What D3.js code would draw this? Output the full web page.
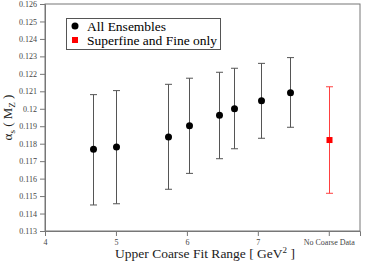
<!DOCTYPE html>
<html><head><meta charset="utf-8">
<script src="https://cdn.jsdelivr.net/npm/d3@7"></script>
<style>body{margin:0;background:#fff}svg{display:block}text{font-family:"Liberation Serif","Times New Roman",serif}</style>
</head><body><svg id="c" width="365" height="269"></svg>
<script>
const fitRange = [4.67, 5.0, 5.74, 6.03, 6.45, 6.67, 7.05, 7.46];
const alphaAll = [0.11768, 0.11781, 0.11838, 0.11903, 0.11963, 0.12000, 0.12046, 0.12092];
const alphaHi  = [0.12081, 0.12104, 0.12140, 0.12175, 0.12209, 0.12232, 0.12260, 0.12293];
const alphaLo  = [0.11449, 0.11456, 0.11539, 0.11630, 0.11714, 0.11771, 0.11831, 0.11894];
const fineX = [8];
const fineAlpha = [0.11821];
const fineHi = [0.12126];
const fineLo = [0.11516];
const xTicks = [4, 5, 6, 7, 8];
const xTickLabels = ["4", "5", "6", "7", "No Coarse Data"];
const yTicks = [0.113,0.114,0.115,0.116,0.117,0.118,0.119,0.120,0.121,0.122,0.123,0.124,0.125,0.126];
const legendLabels = ["All Ensembles", "Superfine and Fine only"];

const svg = d3.select("#c");
const L = 45, R = 360, T = 4, B = 231;
const x = d3.scaleLinear().domain([4, 8.44]).range([L, R]);
const y = d3.scaleLinear().domain([0.113, 0.126]).range([B, T]);

// frame
svg.append("rect").attr("x", L).attr("y", T).attr("width", R - L).attr("height", B - T)
  .attr("fill", "none").attr("stroke", "#777").attr("stroke-width", 1);

const yAxis = svg.append("g").attr("transform", `translate(${L},0)`)
  .call(d3.axisLeft(y).tickValues(yTicks).tickSize(5).tickPadding(3).tickFormat(d => String(+d.toFixed(3))));
const xAxis = svg.append("g").attr("transform", `translate(0,${B})`)
  .call(d3.axisBottom(x).tickValues(xTicks).tickSize(5).tickPadding(3).tickFormat((d, i) => xTickLabels[i]));
[yAxis, xAxis].forEach(g => {
  g.select(".domain").attr("stroke", "#777");
  g.selectAll(".tick line").attr("stroke", "#777");
  g.selectAll(".tick text").attr("fill", "#444").style("font-size", "8px").style("font-family", '"Liberation Serif",serif');
});

const cap = 3.5;
const allData = fitRange.map((d, i) => ({x: d, v: alphaAll[i], hi: alphaHi[i], lo: alphaLo[i]}));
const fineData = fineX.map((d, i) => ({x: d, v: fineAlpha[i], hi: fineHi[i], lo: fineLo[i]}));

function errbars(data, color) {
  const g = svg.append("g").attr("stroke", color).attr("stroke-width", 1).attr("fill", "none");
  data.forEach(d => {
    const px = Math.round(x(d.x)) + 0.5;
    g.append("line").attr("x1", px).attr("x2", px).attr("y1", y(d.hi)).attr("y2", y(d.lo));
    g.append("line").attr("x1", px - cap).attr("x2", px + cap).attr("y1", y(d.hi)).attr("y2", y(d.hi));
    g.append("line").attr("x1", px - cap).attr("x2", px + cap).attr("y1", y(d.lo)).attr("y2", y(d.lo));
  });
}
errbars(allData, "#555");
errbars(fineData, "#ff4040");

svg.append("g").selectAll("circle").data(allData).join("circle")
  .attr("cx", d => Math.round(x(d.x)) + 0.5).attr("cy", d => y(d.v)).attr("r", 3.5).attr("fill", "#000");
svg.append("g").selectAll("rect").data(fineData).join("rect")
  .attr("x", d => Math.round(x(d.x)) + 0.5 - 3).attr("y", d => y(d.v) - 3)
  .attr("width", 6).attr("height", 6).attr("fill", "#f00");

// legend
const lg = svg.append("g");
lg.append("rect").attr("x", 66.5).attr("y", 18.5).attr("width", 154).attr("height", 31)
  .attr("fill", "#fff").attr("stroke", "#555");
lg.append("circle").attr("cx", 75).attr("cy", 26).attr("r", 3.5).attr("fill", "#000");
lg.append("rect").attr("x", 72).attr("y", 37).attr("width", 6).attr("height", 6).attr("fill", "#f00");
lg.selectAll("text").data(legendLabels).join("text")
  .attr("x", 87).attr("y", (d, i) => 30.5 + i * 14).style("font-size", "13.5px").attr("fill", "#000").text(d => d);

// x title
const xt = svg.append("text").attr("x", 205).attr("y", 258).attr("text-anchor", "middle")
  .style("font-size", "13.5px").attr("fill", "#222");
xt.append("tspan").text("Upper Coarse Fit Range [ GeV");
xt.append("tspan").attr("dy", -5).style("font-size", "9px").text("2");
xt.append("tspan").attr("dy", 5).text(" ]");

// y title
const yt = svg.append("text").attr("transform", `translate(12,${(T + B) / 2}) rotate(-90)`)
  .attr("text-anchor", "middle").style("font-size", "13px").attr("fill", "#222");
yt.append("tspan").text("α");
yt.append("tspan").attr("dy", 3).style("font-size", "9px").text("s");
yt.append("tspan").attr("dy", -3).text(" ( M");
yt.append("tspan").attr("dy", 3).style("font-size", "9px").text("Z");
yt.append("tspan").attr("dy", -3).text(" )");
</script></body></html>
